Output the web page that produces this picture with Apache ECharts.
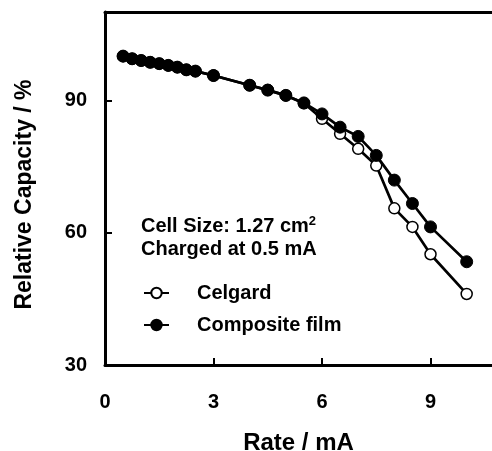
<!DOCTYPE html>
<html>
<head>
<meta charset="utf-8">
<script src="https://cdn.jsdelivr.net/npm/echarts@6/dist/echarts.min.js"></script>
<style>html,body{margin:0;padding:0;background:#fff}#c{width:492px;height:451px}</style>
</head>
<body>
<div id="c"></div>
<script>
const rates = [0.5, 0.75, 1, 1.25, 1.5, 1.75, 2, 2.25, 2.5, 3, 4, 4.5, 5, 5.5, 6, 6.5, 7, 7.5, 8, 8.5, 9, 10];
const composite = [100, 99.4, 99.0, 98.6, 98.3, 97.9, 97.5, 96.9, 96.6, 95.6, 93.4, 92.3, 91.1, 89.4, 86.9, 83.9, 81.8, 77.5, 71.9, 66.6, 61.3, 53.4];
const celgard = [100, 99.4, 99.0, 98.6, 98.3, 97.9, 97.5, 96.9, 96.6, 95.6, 93.4, 92.3, 91.1, 89.3, 85.8, 82.4, 79.0, 75.2, 65.5, 61.3, 55.1, 46.1];
const xTicks = [0, 3, 6, 9];
const yTicks = [30, 60, 90];
const seriesNames = ['Celgard', 'Composite film'];

const FONT = 'Liberation Sans, Arial, sans-serif';
const chart = echarts.init(document.getElementById('c'), null, {renderer: 'canvas'});
const pair = (xs, ys) => xs.map((x, i) => [x, ys[i]]);
const axisLine = {show: true, lineStyle: {color: '#000', width: 3}};
chart.setOption({
  animation: false,
  backgroundColor: '#fff',
  grid: {left: 105, right: 0, top: 12, bottom: 86, containLabel: false, outerBoundsMode: 'none'},
  title: {
    left: 141, top: 215, padding: 0,
    text: '{a|Cell Size: 1.27 cm}{s|2}\n{a|Charged at 0.5 mA}',
    textStyle: {
      rich: {
        a: {fontFamily: FONT, fontWeight: 'bold', fontSize: 20, color: '#000', lineHeight: 23},
        s: {fontFamily: FONT, fontWeight: 'bold', fontSize: 13, color: '#000', verticalAlign: 'top', lineHeight: 13}
      }
    }
  },
  legend: {
    orient: 'vertical', left: 143, top: 283, padding: 0,
    itemWidth: 25, itemHeight: 13, itemGap: 12,
    data: seriesNames,
    textStyle: {fontFamily: FONT, fontWeight: 'bold', fontSize: 20, color: '#000', padding: [0, 0, 0, 23]}
  },
  xAxis: [{
    type: 'value', min: 0, max: 10.7, position: 'bottom',
    name: 'Rate / mA', nameLocation: 'middle', nameGap: 66,
    nameTextStyle: {fontFamily: FONT, fontWeight: 'bold', fontSize: 24, color: '#000'},
    axisLine: axisLine,
    axisTick: {show: true, inside: true, length: 7, lineStyle: {color: '#000', width: 2}, customValues: xTicks},
    axisLabel: {fontFamily: FONT, fontWeight: 'bold', fontSize: 20, color: '#000', margin: 27, customValues: xTicks},
    splitLine: {show: false}
  }, {
    type: 'value', min: 0, max: 10.7, position: 'top',
    axisLine: axisLine, axisTick: {show: false}, axisLabel: {show: false}, splitLine: {show: false}
  }],
  yAxis: {
    type: 'value', min: 30, max: 110,
    name: 'Relative Capacity / %', nameLocation: 'middle', nameGap: 69,
    nameTextStyle: {fontFamily: FONT, fontWeight: 'bold', fontSize: 23, color: '#000', padding: [0, 12, 0, 0]},
    axisLine: axisLine,
    axisTick: {show: true, inside: true, length: 7, lineStyle: {color: '#000', width: 2}, customValues: yTicks},
    axisLabel: {fontFamily: FONT, fontWeight: 'bold', fontSize: 20, color: '#000', margin: 18, customValues: yTicks},
    splitLine: {show: false}
  },
  series: [{
    name: seriesNames[0], type: 'line', data: pair(rates, celgard),
    symbol: 'circle', symbolSize: 11, z: 2,
    lineStyle: {color: '#000', width: 2.7},
    itemStyle: {color: '#fff', borderColor: '#000', borderWidth: 1.5}
  }, {
    name: seriesNames[1], type: 'line', data: pair(rates, composite),
    symbol: 'circle', symbolSize: 12, z: 3,
    lineStyle: {color: '#000', width: 2.7},
    itemStyle: {color: '#000', borderColor: '#000', borderWidth: 1}
  }]
});
</script>
</body>
</html>
